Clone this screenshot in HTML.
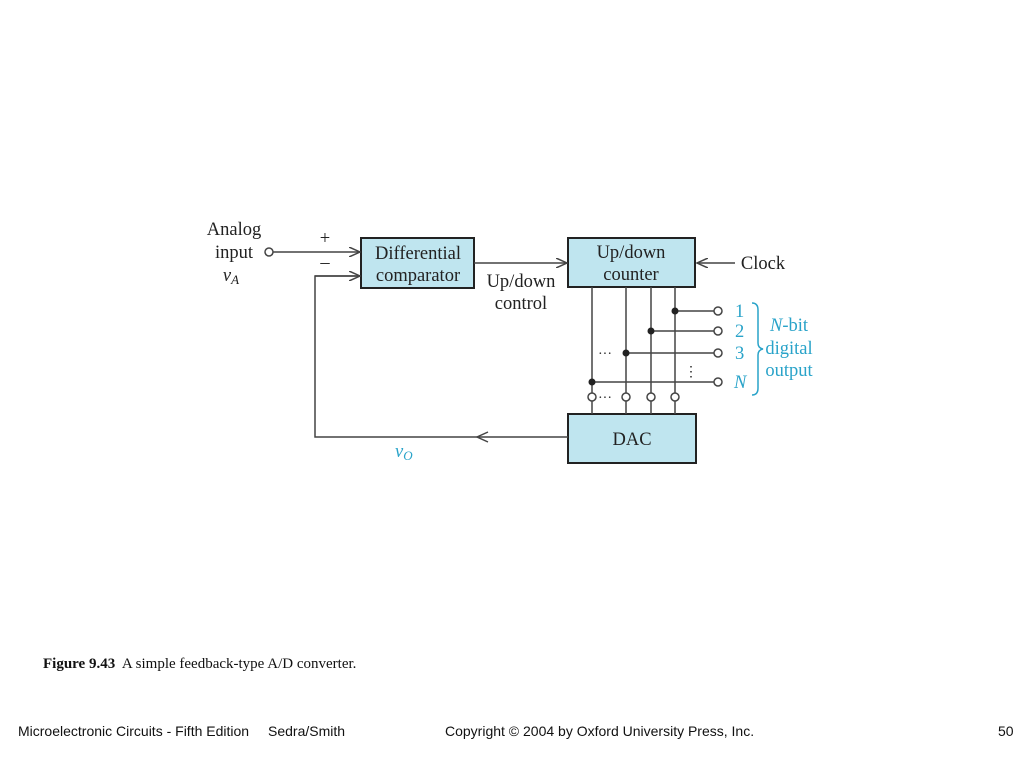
<!DOCTYPE html>
<html><head><style>
body{margin:0;background:#fff;}
svg text{font-family:"Liberation Serif",serif;}
svg text.s{font-family:"Liberation Sans",sans-serif;}
</style></head><body>
<svg width="1024" height="768" xmlns="http://www.w3.org/2000/svg">
<defs><marker id="a" markerWidth="12" markerHeight="10" refX="11" refY="5" orient="auto" markerUnits="userSpaceOnUse"><path d="M0,0 L11,5 L0,10" fill="none" stroke="#444" stroke-width="1.5"/></marker></defs>
<g stroke="#444" stroke-width="1.5" fill="none">
<rect x="361" y="238" width="113" height="50" fill="#bfe5ef" stroke="#222" stroke-width="2"/>
<rect x="568" y="238" width="127" height="49" fill="#bfe5ef" stroke="#222" stroke-width="2"/>
<rect x="568" y="414" width="128" height="49" fill="#bfe5ef" stroke="#222" stroke-width="2"/>
<circle cx="269" cy="252" r="4" fill="#fff"/>
<line x1="273" y1="252" x2="360" y2="252" marker-end="url(#a)"/>
<polyline points="568,437 315,437 315,276 360,276" />
<line x1="315" y1="276" x2="360" y2="276" marker-end="url(#a)"/>
<path d="M488,432 L477,437 L488,442"/>
<line x1="474" y1="263" x2="567" y2="263" marker-end="url(#a)"/>
<line x1="735" y1="263" x2="697" y2="263" marker-end="url(#a)"/>
<line x1="592" y1="287" x2="592" y2="393"/><line x1="592" y1="401" x2="592" y2="414"/>
<line x1="626" y1="287" x2="626" y2="393"/><line x1="626" y1="401" x2="626" y2="414"/>
<line x1="651" y1="287" x2="651" y2="393"/><line x1="651" y1="401" x2="651" y2="414"/>
<line x1="675" y1="287" x2="675" y2="393"/><line x1="675" y1="401" x2="675" y2="414"/>
<circle cx="592" cy="397" r="4" fill="#fff"/><circle cx="626" cy="397" r="4" fill="#fff"/>
<circle cx="651" cy="397" r="4" fill="#fff"/><circle cx="675" cy="397" r="4" fill="#fff"/>
<line x1="675" y1="311" x2="714" y2="311"/><line x1="651" y1="331" x2="714" y2="331"/>
<line x1="626" y1="353" x2="714" y2="353"/><line x1="592" y1="382" x2="714" y2="382"/>
<circle cx="718" cy="311" r="4" fill="#fff"/><circle cx="718" cy="331" r="4" fill="#fff"/>
<circle cx="718" cy="353" r="4" fill="#fff"/><circle cx="718" cy="382" r="4" fill="#fff"/>
<path d="M752,303 Q758,303 758,310 L758,343 Q758,348 763,349 Q758,350 758,355 L758,388 Q758,395 752,395" stroke="#29a3c9"/>
</g>
<g fill="#222">
<circle cx="675" cy="311" r="3.5"/><circle cx="651" cy="331" r="3.5"/><circle cx="626" cy="353" r="3.5"/><circle cx="592" cy="382" r="3.5"/>
</g>
<g font-size="18.5" fill="#222" text-anchor="middle">
<text x="234" y="235">Analog</text><text x="234" y="258">input</text>
<text x="231" y="281" font-style="italic">v<tspan font-size="13" dy="3">A</tspan></text>
<text x="325" y="244">+</text><text x="325" y="268">–</text>
<text x="418" y="259">Differential</text><text x="418" y="281">comparator</text>
<text x="521" y="287">Up/down</text><text x="521" y="309">control</text>
<text x="631" y="258">Up/down</text><text x="631" y="280">counter</text>
<text x="763" y="269">Clock</text>
<text x="632" y="445">DAC</text>
<text x="605" y="358" font-size="14">···</text>
<text x="605" y="402" font-size="14">···</text>
<text x="691" y="376" font-size="14">⋮</text>
</g>
<g font-size="18.5" fill="#29a3c9">
<text x="735" y="317">1</text><text x="735" y="337">2</text><text x="735" y="359">3</text>
<text x="734" y="388" font-style="italic">N</text>
<text x="789" y="331" text-anchor="middle"><tspan font-style="italic">N</tspan>-bit</text>
<text x="789" y="354" text-anchor="middle">digital</text>
<text x="789" y="376" text-anchor="middle">output</text>
<text x="395" y="457" font-style="italic">v<tspan font-size="13" dy="3">O</tspan></text>
</g>
<text x="43" y="668" font-size="15" fill="#111" xml:space="preserve"><tspan font-weight="bold">Figure 9.43</tspan>  A simple feedback-type A/D converter.</text>
<g font-size="14" fill="#111">
<text class="s" x="18" y="736">Microelectronic Circuits - Fifth Edition</text>
<text class="s" x="268" y="736">Sedra/Smith</text>
<text class="s" x="445" y="736">Copyright © 2004 by Oxford University Press, Inc.</text>
<text class="s" x="998" y="736">50</text>
</g>
</svg>
</body></html>
